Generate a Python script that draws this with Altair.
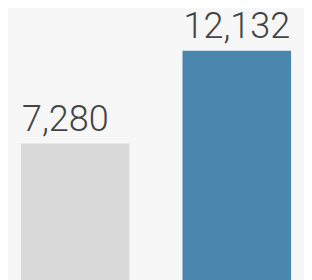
import altair as alt
import pandas as pd

categories = ["A", "B"]
values = [7280, 12132]
labels = ["7,280", "12,132"]
colors = ["#dadada", "#4a86ae"]

df = pd.DataFrame({"cat": categories, "value": values, "label": labels, "color": colors})

xs = alt.Scale(domain=categories, paddingInner=0.328, paddingOuter=0.08)
ys = alt.Scale(domain=[365, 14151], nice=False, zero=False)

base = alt.Chart(df)

bars = base.mark_bar(clip=False).encode(
    x=alt.X("cat:N", scale=xs, axis=None),
    y=alt.Y("value:Q", scale=ys, axis=None),
    y2=alt.Y2(datum=0),
    color=alt.Color("color:N", scale=None, legend=None),
)

text = base.mark_text(
    align="left", baseline="alphabetic", dx=1, dy=-13,
    font="Roboto", fontWeight=300, fontSize=36, color="#444444",
).encode(
    x=alt.X("cat:N", scale=xs, axis=None, bandPosition=0),
    y=alt.Y("value:Q", scale=ys, axis=None),
    text="label:N",
)

chart = alt.layer(bars, text).properties(
    width=296, height=264,
    background="#f7f7f7",
    padding=0,
).configure_view(stroke=None)

chart.save("out.html", embed_options={"renderer": "svg", "actions": False})
